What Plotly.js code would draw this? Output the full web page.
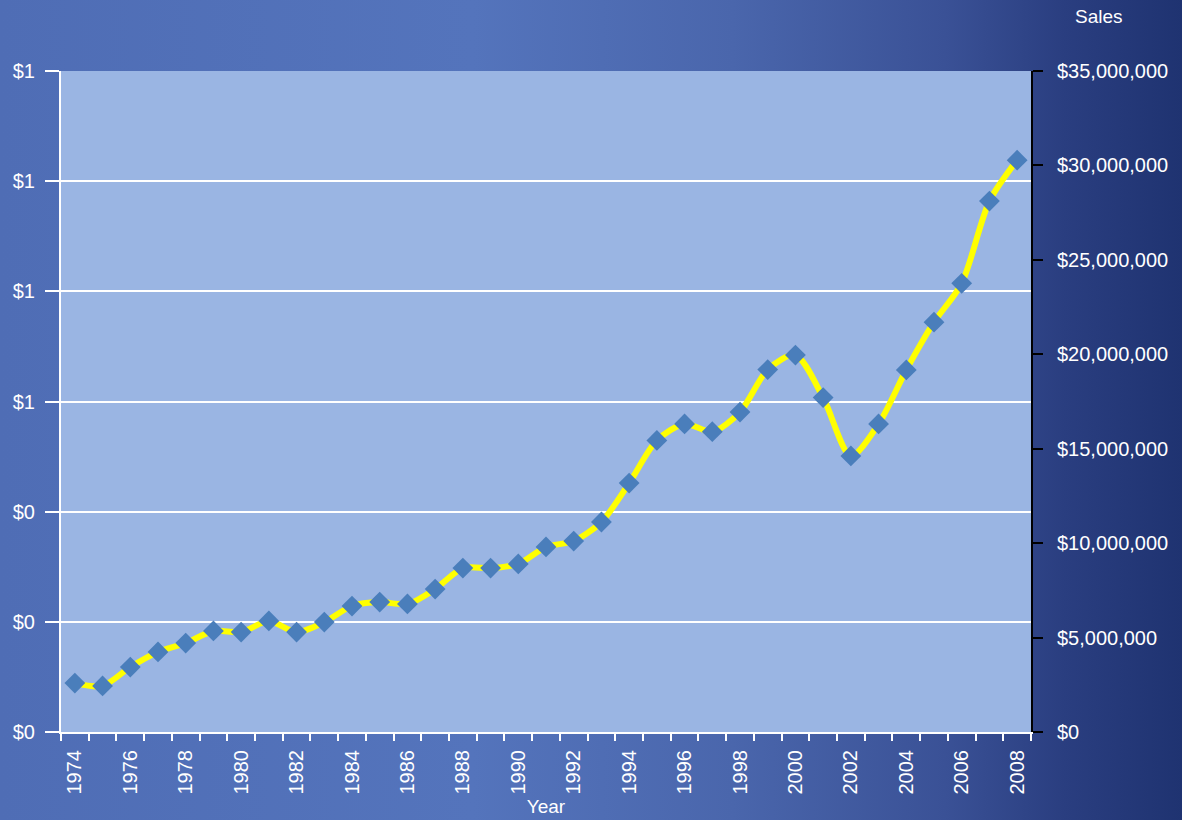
<!DOCTYPE html>
<html>
<head>
<meta charset="utf-8">
<script src="https://cdn.plot.ly/plotly-3.0.1.min.js"></script>
<style>
html,body{margin:0;padding:0;width:1182px;height:820px;overflow:hidden;}
body{background:linear-gradient(to right,#4F6DB5 0%,#5474BC 40%,#4A66AC 62%,#3A5196 80%,#2A3E80 90%,#1F3371 100%);}
#chart{width:1182px;height:820px;}
</style>
</head>
<body>
<div id="chart"></div>
<script>
const years = [1974,1975,1976,1977,1978,1979,1980,1981,1982,1983,1984,1985,1986,1987,1988,1989,1990,1991,1992,1993,1994,1995,1996,1997,1998,1999,2000,2001,2002,2003,2004,2005,2006,2007,2008];
const sales = [2590000,2440000,3440000,4240000,4710000,5350000,5290000,5880000,5290000,5820000,6670000,6880000,6780000,7570000,8680000,8680000,8900000,9800000,10110000,11120000,13180000,15440000,16310000,15900000,16940000,19190000,19960000,17710000,14620000,16310000,19170000,21700000,23760000,28110000,30280000];
const yearTickVals = [1974,1976,1978,1980,1982,1984,1986,1988,1990,1992,1994,1996,1998,2000,2002,2004,2006,2008];
const leftTickVals = [0,0.2,0.4,0.6,0.8,1.0,1.2];
const leftTickText = ['$0','$0','$0','$1','$1','$1','$1'];
const rightTickVals = [0,5000000,10000000,15000000,20000000,25000000,30000000,35000000];
const rightTickText = ['$0','$5,000,000','$10,000,000','$15,000,000','$20,000,000','$25,000,000','$30,000,000','$35,000,000'];

const font = 'Liberation Sans, Arial, sans-serif';
const traces = [
  {x:[years[0]], y:[null], yaxis:'y', mode:'markers', showlegend:false, hoverinfo:'skip'},
  {x:years, y:sales, yaxis:'y2', mode:'lines+markers', showlegend:false,
   line:{color:'#FFFF00', width:6, shape:'spline', smoothing:0.8},
   marker:{symbol:'diamond', size:16, color:'#4A7EBB', line:{width:0}}}
];
const layout = {
  width:1182, height:820,
  margin:{l:61, r:151, t:71, b:88},
  paper_bgcolor:'rgba(0,0,0,0)', plot_bgcolor:'#9AB5E3',
  font:{family:font, color:'#FFFFFF', size:20},
  showlegend:false,
  xaxis:{range:[1973.5,2008.5], tickmode:'array', tickvals:yearTickVals, tickangle:-90,
         ticks:'', ticklen:0, showgrid:false, zeroline:false,
         showline:true, linecolor:'#FFFFFF', linewidth:2,
         ticklabelstandoff:8,
         minor:{tickmode:'linear', tick0:1973.5, dtick:1, ticks:'outside', ticklen:7, tickcolor:'#FFFFFF', tickwidth:2, showgrid:false},
         tickfont:{size:20, color:'#FFFFFF'},
         title:{text:'Year', font:{size:19, color:'#FFFFFF'}, standoff:6}},
  yaxis:{range:[0,1.2], tickmode:'array', tickvals:leftTickVals, ticktext:leftTickText,
         showgrid:true, gridcolor:'#FFFFFF', gridwidth:2, zeroline:false,
         showline:true, linecolor:'#FFFFFF', linewidth:2,
         ticks:'outside', ticklen:14, tickcolor:'#FFFFFF', tickwidth:2,
         ticklabelstandoff:6,
         tickfont:{size:20, color:'#FFFFFF'}},
  yaxis2:{range:[0,35000000], overlaying:'y', side:'right', tickmode:'array',
         tickvals:rightTickVals, ticktext:rightTickText, showgrid:false, zeroline:false,
         showline:true, linecolor:'#000000', linewidth:2,
         ticks:'outside', ticklen:10, tickcolor:'#000000', tickwidth:2,
         ticklabelstandoff:10,
         tickfont:{size:20, color:'#FFFFFF'}},
  annotations:[{text:'Sales', xref:'paper', yref:'paper', x:1.07, y:1.082, xanchor:'center', yanchor:'middle', showarrow:false, font:{size:19, color:'#FFFFFF'}}]
};
Plotly.newPlot('chart', traces, layout, {displayModeBar:false, staticPlot:true});
</script>
</body>
</html>
